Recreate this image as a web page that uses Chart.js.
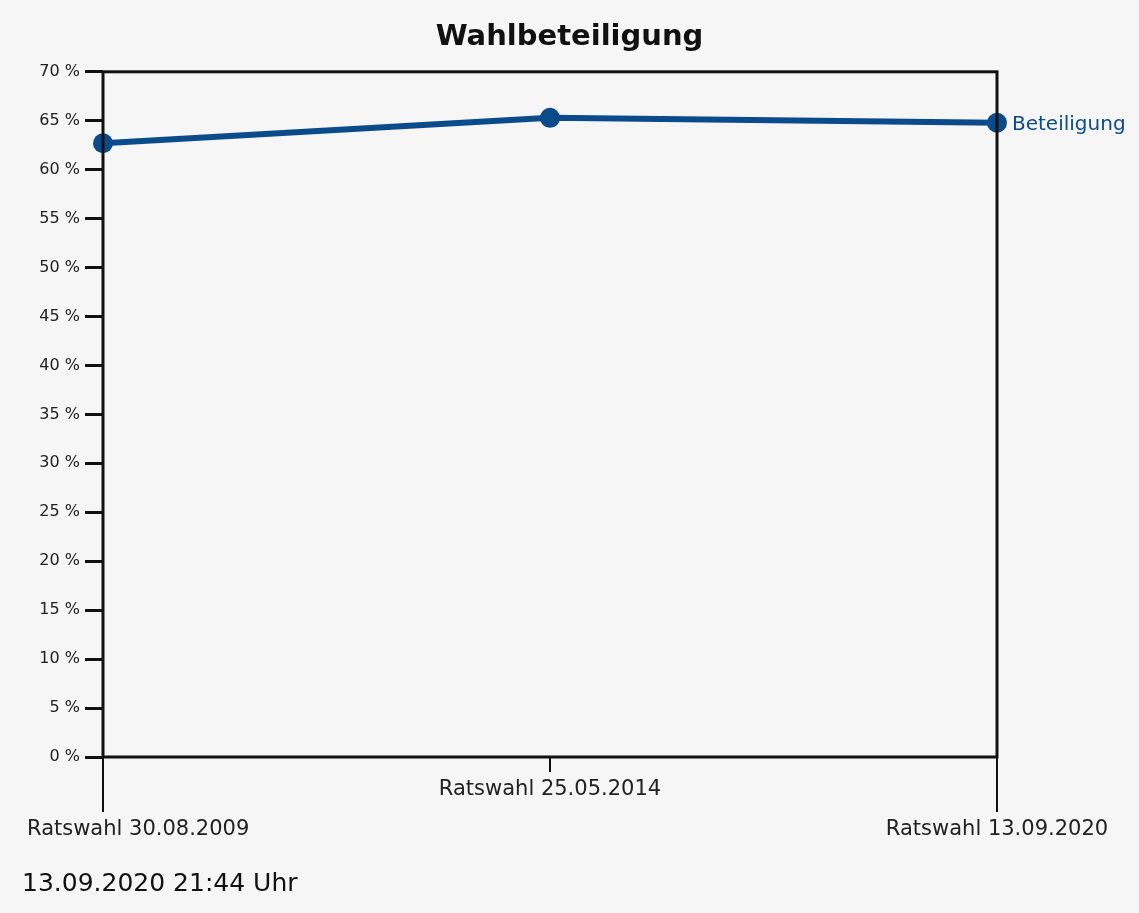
<!DOCTYPE html>
<html>
<head>
<title>Wahlbeteiligung</title>
<style>
body {
    margin: 0;
    background: #f6f6f6;
}
#wrap {
    width: 1139px;
    height: 913px;
}
</style>
</head>
<body>
<script src="https://cdn.jsdelivr.net/npm/chart.js"></script>
<div id="wrap">
    <canvas id="myChart" width="1139" height="913"></canvas>
</div>
<script>
    // data
    var wahlen = ['Ratswahl 30.08.2009', 'Ratswahl 25.05.2014', 'Ratswahl 13.09.2020']
    var beteiligung = [62.7, 65.3, 64.8]
    var serienName = 'Beteiligung'
    var stand = '13.09.2020 21:44 Uhr'

    var blau = '#0b4a8b'
    var schrift = 'DejaVu Sans'

    // background, frame, staggered x labels, series label, timestamp
    const extras = {
        id: 'extras',
        beforeDraw(chart) {
            const c = chart.ctx
            c.save()
            c.fillStyle = '#f6f6f6'
            c.fillRect(0, 0, chart.width, chart.height)
            c.restore()
        },
        afterDatasetsDraw(chart) {
            const c = chart.ctx
            const a = chart.chartArea
            const x = chart.scales.x
            c.save()
            // frame
            c.strokeStyle = '#111'
            c.lineWidth = 3
            c.strokeRect(a.left, a.top, a.right - a.left, a.bottom - a.top)

            // x ticks and labels, every other one lower
            c.font = '21px "' + schrift + '"'
            c.fillStyle = '#222'
            c.textBaseline = 'middle'
            c.lineWidth = 2
            wahlen.forEach((txt, i) => {
                const px = x.getPixelForValue(i)
                const low = i % 2 === 0
                c.beginPath()
                c.moveTo(px, a.bottom)
                c.lineTo(px, a.bottom + (low ? 55 : 15))
                c.stroke()
                const w = c.measureText(txt).width
                let left = px - w / 2
                left = Math.max(left, 27)
                left = Math.min(left, chart.width - 27 - w)
                c.textAlign = 'left'
                c.fillText(txt, left, a.bottom + (low ? 73 : 33))
            })

            // series label at last point
            const meta = chart.getDatasetMeta(0)
            const last = meta.data[meta.data.length - 1]
            c.font = '20px "' + schrift + '"'
            c.fillStyle = blau
            c.textAlign = 'left'
            c.fillText(serienName, last.x + 15, last.y + 2)

            // timestamp
            c.font = '25px "' + schrift + '"'
            c.fillStyle = '#111'
            c.fillText(stand, 22, 884)
            c.restore()
        }
    }

    const ctx = document.getElementById('myChart').getContext('2d')
    const myChart = new Chart(ctx, {
        type: 'line',
        data: {
            labels: wahlen,
            datasets: [{
                label: serienName,
                data: beteiligung,
                borderColor: blau,
                backgroundColor: blau,
                borderWidth: 6,
                pointRadius: 10,
                pointBackgroundColor: blau,
                pointBorderWidth: 0,
                tension: 0,
                yAxisID: 'y'
            }]
        },
        options: {
            responsive: false,
            animation: false,
            layout: { padding: 0 },
            plugins: {
                legend: { display: false },
                tooltip: { enabled: false },
                title: {
                    display: true,
                    text: 'Wahlbeteiligung',
                    color: '#111',
                    font: { family: schrift, size: 29, weight: 'bold' },
                    padding: { top: 20, bottom: 17 }
                }
            },
            scales: {
                x: {
                    type: 'category',
                    offset: false,
                    ticks: { display: false },
                    grid: { display: false },
                    border: { display: false },
                    afterFit: s => { s.height = 156 }
                },
                y: {
                    min: 0,
                    max: 70,
                    ticks: {
                        stepSize: 5,
                        color: '#222',
                        padding: 5,
                        font: { family: schrift, size: 16 },
                        callback: v => v + ' %'
                    },
                    grid: {
                        drawOnChartArea: false,
                        tickLength: 18,
                        tickColor: '#111',
                        tickWidth: 3
                    },
                    border: { display: false },
                    afterFit: s => { s.width = 103 }
                },
                y2: {
                    position: 'right',
                    display: true,
                    ticks: { display: false },
                    grid: { display: false },
                    border: { display: false },
                    afterFit: s => { s.width = 142 }
                }
            }
        },
        plugins: [extras]
    })
</script>
</body>
</html>
